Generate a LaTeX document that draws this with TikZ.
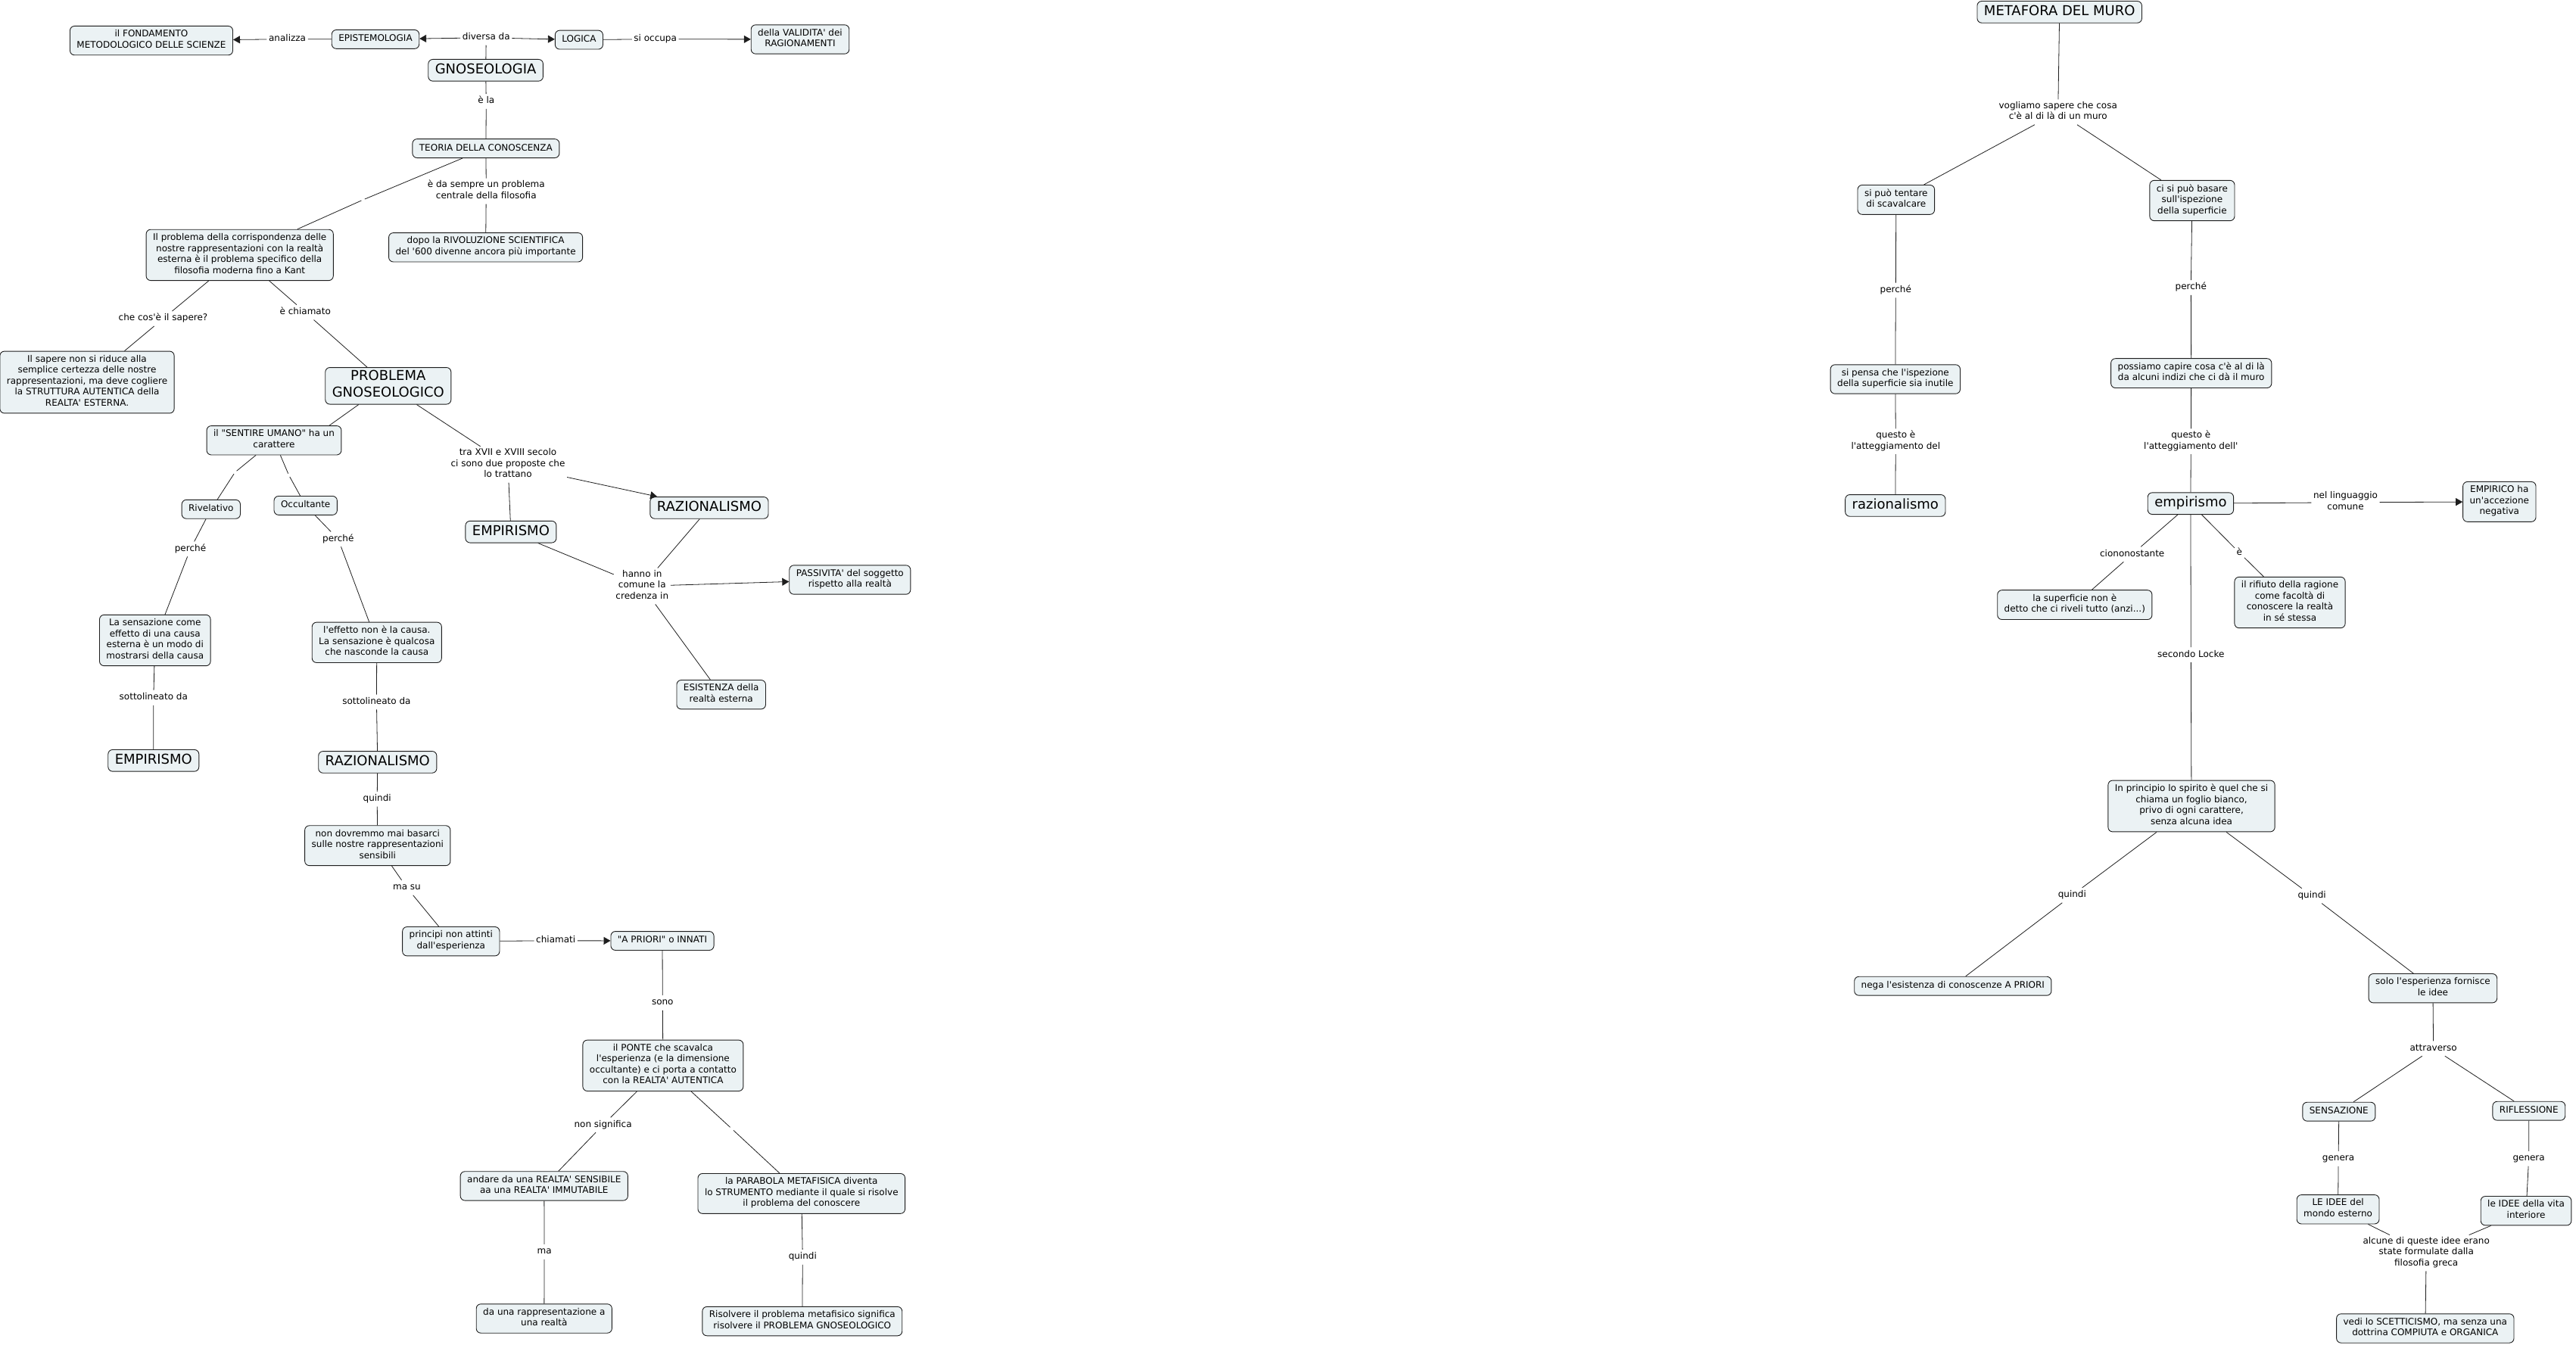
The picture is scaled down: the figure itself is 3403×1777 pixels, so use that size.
\documentclass[tikz,border=0pt]{standalone}
\usepackage{fontspec}
\setmainfont{DejaVu Sans}[Ligatures=TeXOff]
\usepackage{tikz}
\usetikzlibrary{arrows.meta}
\definecolor{cmfill}{HTML}{EBF2F4}
\definecolor{cmline}{HTML}{1E1E1E}
\newcommand{\cmsmall}{\fontsize{12}{14.5}\selectfont}
\newcommand{\cmbig}{\fontsize{18}{21.5}\selectfont}

\begin{document}
\begin{tikzpicture}[x=1pt,y=-1pt,
  box/.style={draw=cmline,line width=0.9pt,fill=cmfill,rounded corners=6pt,align=center,font=\cmsmall,
    inner xsep=9pt,inner ysep=5.2pt,execute at begin node=\strut,execute at end node=\strut},
  big/.style={box,font=\cmbig,inner ysep=3.6pt},
  lbl/.style={align=center,font=\cmsmall,inner sep=2.5pt,execute at begin node=\strut,execute at end node=\strut},
  gap/.style={inner sep=2pt},
  link/.style={draw=cmline,line width=0.8pt},
  arr/.style={link,-{Triangle[length=9pt,width=10pt]}}]
\useasboundingbox (0,0) rectangle (3403,1777);

% gnoseologia
\node[box](fond) at (200,53.6){il FONDAMENTO\\METODOLOGICO DELLE SCIENZE};
\node[box](epist) at (496,51.9){EPISTEMOLOGIA};
\node[big](gnos) at (641.6,92.8){GNOSEOLOGIA};
\node[box](logica) at (764.9,52.6){LOGICA};
\node[box](valid) at (1057,52){della VALIDITA' dei\\RAGIONAMENTI};
\node[box](teoria) at (641.9,196.1){TEORIA DELLA CONOSCENZA};
\node[box](dopo) at (641.6,326.8){dopo la RIVOLUZIONE SCIENTIFICA\\del '600 divenne ancora più importante};
\node[box](probl) at (316.7,336.9){Il problema della corrispondenza delle\\nostre rappresentazioni con la realtà\\esterna è il problema specifico della\\filosofia moderna fino a Kant};
\node[box](sapere) at (115,505){Il sapere non si riduce alla\\semplice certezza delle nostre\\rappresentazioni, ma deve cogliere\\la STRUTTURA AUTENTICA della\\REALTA' ESTERNA.};
\node[big](pgnos) at (512.8,509.8){PROBLEMA\\GNOSEOLOGICO};
\node[box](sentire) at (362,581.8){il "SENTIRE UMANO" ha un\\carattere};
\node[box](rivel) at (278.8,672.8){Rivelativo};
\node[box](occult) at (403.7,667.9){Occultante};
\node[box](rivcausa) at (204.8,846){La sensazione come\\effetto di una causa\\esterna è un modo di\\mostrarsi della causa};
\node[box](occcausa) at (497.8,848.8){l'effetto non è la causa.\\La sensazione è qualcosa\\che nasconde la causa};
\node[big](emp1) at (202.8,1004.8){EMPIRISMO};
\node[big](raz1) at (498.8,1006.9){RAZIONALISMO};
\node[box](nondov) at (498.8,1117.2){non dovremmo mai basarci\\sulle nostre rappresentazioni\\sensibili};
\node[box](princ) at (595.8,1243.7){principi non attinti\\dall'esperienza};
\node[box](apriori) at (875,1243){"A PRIORI" o INNATI};
\node[box](ponte) at (875.9,1407.8){il PONTE che scavalca\\l'esperienza (e la dimensione\\occultante) e ci porta a contatto\\con la REALTA' AUTENTICA};
\node[box](andare) at (718.8,1566.9){andare da una REALTA' SENSIBILE\\aa una REALTA' IMMUTABILE};
\node[box](rappr) at (718.8,1742){da una rappresentazione a\\una realtà};
\node[box](parab) at (1058.8,1576.9){la PARABOLA METAFISICA diventa\\lo STRUMENTO mediante il quale si risolve\\il problema del conoscere};
\node[box](risolv) at (1059.8,1745.6){Risolvere il problema metafisico significa\\risolvere il PROBLEMA GNOSEOLOGICO};
\node[big](emp2) at (674.9,702.7){EMPIRISMO};
\node[big](raz2) at (936.9,670.9){RAZIONALISMO};
\node[box](passiv) at (1122.8,766){PASSIVITA' del soggetto\\rispetto alla realtà};
\node[box](esist) at (952.7,917.7){ESISTENZA della\\realtà esterna};

\node[lbl](lanal) at (379.6,51.7){analizza};
\node[lbl](ldiv) at (642.3,49.8){diversa da};
\node[lbl](locc) at (865.7,51.7){si occupa};
\node[lbl](lela) at (642.3,134){è la};
\node[lbl](lsem) at (642.3,252.6){è da sempre un problema\\centrale della filosofia};
\node[gap](le1) at (479.6,264){};
\node[lbl](lche) at (215.5,421){che cos'è il sapere?};
\node[lbl](lchi) at (403.3,412.6){è chiamato};
\node[gap](le2) at (310.4,624){};
\node[gap](le3) at (381.6,627.8){};
\node[lbl](lp1) at (251.5,725.4){perché};
\node[lbl](lp2) at (446.8,712.4){perché};
\node[lbl](ls1) at (202.8,921.8){sottolineato da};
\node[lbl](ls2) at (497.4,927.5){sottolineato da};
\node[lbl](lq1) at (498.2,1055.7){quindi};
\node[lbl](lmasu) at (537.5,1172.8){ma su};
\node[lbl](lchm) at (734.2,1242.8){chiamati};
\node[lbl](lsono) at (875.3,1324.9){sono};
\node[lbl](lnon) at (796.6,1486.3){non significa};
\node[gap](le4) at (966.7,1491.3){};
\node[lbl](lma) at (719.1,1653.9){ma};
\node[lbl](lq2) at (1060.3,1660.9){quindi};
\node[lbl](ltra) at (671,613.7){tra XVII e XVIII secolo\\ci sono due proposte che\\lo trattano};
\node[lbl](lhan) at (848.3,774.4){hanno in\\comune la\\credenza in};

\draw[link](epist)--(lanal); \draw[arr](lanal)--(fond);
\draw[link](gnos)--(ldiv); \draw[arr](ldiv)--(epist); \draw[arr](ldiv)--(logica);
\draw[link](logica)--(locc); \draw[arr](locc)--(valid);
\draw[link](gnos)--(lela)--(teoria);
\draw[link](teoria)--(lsem)--(dopo);
\draw[link](teoria)--(le1)--(probl);
\draw[link](probl)--(lche)--(sapere);
\draw[link](probl)--(lchi)--(pgnos);
\draw[link]([xshift=-39pt]pgnos.south)--([xshift=73pt]sentire.north);
\draw[link](sentire)--(le2)--(rivel);
\draw[link](sentire)--(le3)--(occult);
\draw[link](rivel)--(lp1)--(rivcausa);
\draw[link](occult)--(lp2)--(occcausa);
\draw[link](rivcausa)--(ls1)--(emp1);
\draw[link](occcausa)--(ls2)--(raz1);
\draw[link](raz1)--(lq1)--(nondov);
\draw[link](nondov)--(lmasu)--(princ);
\draw[link](princ)--(lchm); \draw[arr](lchm)--(apriori);
\draw[link](apriori)--(lsono)--(ponte);
\draw[link](ponte)--(lnon)--(andare);
\draw[link](ponte)--(le4)--(parab);
\draw[link](andare)--(lma)--(rappr);
\draw[link](parab)--(lq2)--(risolv);
\draw[link](pgnos)--(ltra)--(emp2); \draw[arr](ltra)--(raz2);
\draw[link](emp2)--(lhan); \draw[link](raz2)--(lhan);
\draw[arr](lhan)--(passiv); \draw[link](lhan)--(esist);

% metafora del muro
\node[big](muro) at (2720.7,15.9){METAFORA DEL MURO};
\node[box](tent) at (2504.8,263.9){si può tentare\\di scavalcare};
\node[box](basare) at (2895.9,265){ci si può basare\\sull'ispezione\\della superficie};
\node[box](pensa) at (2503.8,501){si pensa che l'ispezione\\della superficie sia inutile};
\node[box](capire) at (2894.7,493.1){possiamo capire cosa c'è al di là\\da alcuni indizi che ci dà il muro};
\node[big](raz3) at (2503.8,667.9){razionalismo};
\node[big](emp3) at (2893.9,665.2){empirismo};
\node[box](empirico) at (3301.8,662.9){EMPIRICO ha\\un'accezione\\negativa};
\node[box](superf) at (2740.8,799.1){la superficie non è\\detto che ci riveli tutto (anzi...)};
\node[box](rifiuto) at (3025,796){il rifiuto della ragione\\come facoltà di\\conoscere la realtà\\in sé stessa};
\node[box](locke) at (2895,1065){In principio lo spirito è quel che si\\chiama un foglio bianco,\\privo di ogni carattere,\\senza alcuna idea};
\node[box](nega) at (2579.8,1302.7){nega l'esistenza di conoscenze A PRIORI};
\node[box](solo) at (3213.9,1305.7){solo l'esperienza fornisce\\le idee};
\node[box](sensaz) at (3089.8,1468.7){SENSAZIONE};
\node[box](rifless) at (3340.8,1467.7){RIFLESSIONE};
\node[box](ideeest) at (3088.6,1597.8){LE IDEE del\\mondo esterno};
\node[box](ideeint) at (3337,1599.7){le IDEE della vita\\interiore};
\node[box](vedi) at (3203.8,1755){vedi lo SCETTICISMO, ma senza una\\dottrina COMPIUTA e ORGANICA};

\node[lbl](lvogl) at (2718.7,148.1){vogliamo sapere che cosa\\c'è al di là di un muro};
\node[lbl](lp3) at (2504.3,383.5){perché};
\node[lbl](lp4) at (2894.3,380){perché};
\node[lbl](lq3) at (2504.3,583.2){questo è\\l'atteggiamento del};
\node[lbl](lq4) at (2894.3,583.2){questo è\\l'atteggiamento dell'};
\node[lbl](lnel) at (3098.5,663.8){nel linguaggio\\comune};
\node[lbl](lcion) at (2816.7,732.3){ciononostante};
\node[lbl](le5) at (2958.4,730.4){è};
\node[lbl](lsec) at (2894.3,865.1){secondo Locke};
\node[lbl](lqa) at (2737.3,1182.8){quindi};
\node[lbl](lqb) at (3054.1,1183.6){quindi};
\node[lbl](lattr) at (3214.6,1385.3){attraverso};
\node[lbl](lg1) at (3089.1,1530.8){genera};
\node[lbl](lg2) at (3340.6,1530.8){genera};
\node[lbl](lalc) at (3205.2,1655.5){alcune di queste idee erano\\state formulate dalla\\filosofia greca};

\draw[link](muro)--(lvogl); \draw[link](lvogl)--(tent); \draw[link](lvogl)--(basare);
\draw[link](tent)--(lp3)--(pensa);
\draw[link](basare)--(lp4)--(capire);
\draw[link](pensa)--(lq3)--(raz3);
\draw[link](capire)--(lq4)--(emp3);
\draw[link](emp3)--(lnel); \draw[arr](lnel)--(empirico);
\draw[link](emp3)--(lcion)--(superf);
\draw[link](emp3)--(le5)--(rifiuto);
\draw[link](emp3)--(lsec)--(locke);
\draw[link](locke)--(lqa)--(nega);
\draw[link](locke)--(lqb)--(solo);
\draw[link](solo)--(lattr); \draw[link](lattr)--(sensaz); \draw[link](lattr)--(rifless);
\draw[link](sensaz)--(lg1)--(ideeest);
\draw[link](rifless)--(lg2)--(ideeint);
\draw[link](ideeest)--(lalc); \draw[link](ideeint)--(lalc); \draw[link](lalc)--(vedi);
\end{tikzpicture}
\end{document}
